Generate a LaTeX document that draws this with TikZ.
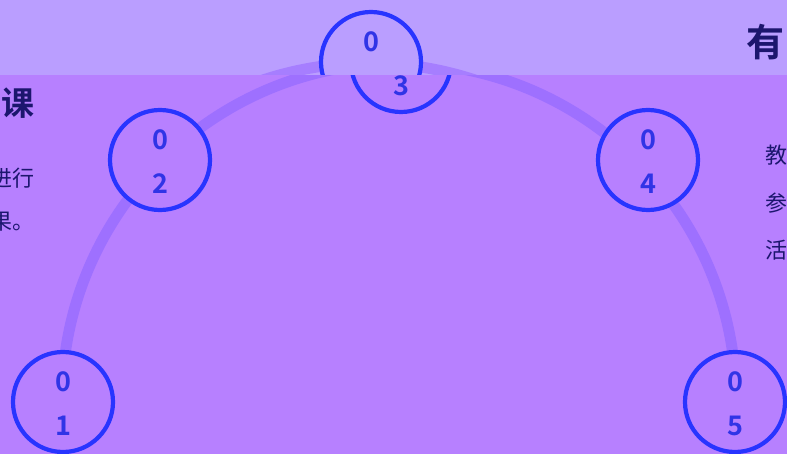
\documentclass[tikz,border=0pt]{standalone}
\usepackage{fontspec}
\newfontfamily\cjk{Noto Sans CJK SC}
\newfontfamily\cjkb{Noto Sans CJK SC Bold}
\definecolor{bgpurple}{RGB}{183,128,255}
\definecolor{bandpurple}{RGB}{186,158,255}
\definecolor{arcpurple}{RGB}{158,112,255}
\definecolor{ringblue}{RGB}{40,52,255}
\definecolor{digitblue}{RGB}{48,52,230}
\definecolor{navy}{RGB}{28,22,110}
\tikzset{
  ring/.style={circle,draw=ringblue,line width=4.2pt,minimum size=100pt,inner sep=0pt},
  digit/.style={font=\cjkb\fontsize{27}{27}\selectfont,text=digitblue,inner sep=0pt},
  bodytxt/.style={font=\cjk\fontsize{22}{22}\selectfont,text=navy,inner sep=0pt},
  headtxt/.style={font=\cjkb\fontsize{33}{33}\selectfont,text=navy,inner sep=0pt},
  arcline/.style={draw=arcpurple,line width=11pt}
}
\begin{document}
\begin{tikzpicture}[x=1pt,y=1pt]
\useasboundingbox (0,0) rectangle (787,-454);
\clip (0,0) rectangle (787,-454);
\fill[bgpurple] (0,0) rectangle (787,-454);
% main arc
\draw[arcline] (62,-400) arc[start angle=180,end angle=0,radius=337pt];
% circles
\node[ring,fill=bgpurple] (c1) at (63,-402) {};
\node[ring,fill=bgpurple] (c2) at (160,-160) {};
\node[ring,fill=bgpurple] (c3) at (401,-62) {};
\node[ring,fill=bgpurple] (c4) at (648,-160) {};
\node[ring,fill=bgpurple] (c5) at (735,-402) {};
\foreach \n/\d in {c1/1,c2/2,c3/3,c4/4,c5/5}{
  \node[digit] (\n a) at ([yshift=20pt]\n.center) {0};
  \node[digit] (\n b) at ([yshift=-24pt]\n.center) {\d};
}
% left text
\node[headtxt,anchor=east] (t1) at (35,-103) {课};
\node[bodytxt,anchor=east] (t2) at (35,-178) {进行};
\node[bodytxt,anchor=east] (t3) at (35,-222) {果。};
% right text
\node[bodytxt,anchor=west] (r2) at (765,-155) {教};
\node[bodytxt,anchor=west] (r3) at (765,-203) {参};
\node[bodytxt,anchor=west] (r4) at (765,-250) {活};
% top band (shifted copy)
\begin{scope}
\clip (0,0) rectangle (787,-75);
\fill[bandpurple] (0,0) rectangle (787,-75);
\draw[draw=arcpurple!70!bandpurple,line width=11pt] (32,-400) arc[start angle=180,end angle=0,radius=337pt];
\node[ring,fill=bandpurple] (u3) at (371,-62) {};
\node[digit] (u3a) at ([yshift=20pt]u3.center) {0};
\node[headtxt,anchor=west,font=\cjkb\fontsize{38}{38}\selectfont] (h1) at (746,-42) {有};
\end{scope}
\end{tikzpicture}
\end{document}
